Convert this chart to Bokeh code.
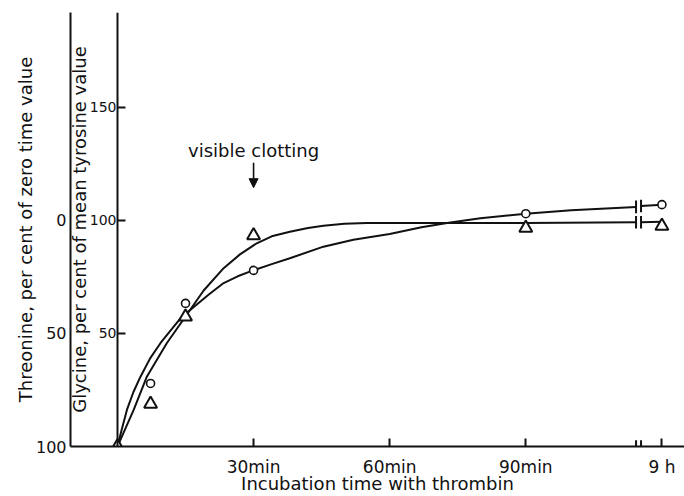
from bokeh.plotting import figure
from bokeh.models import Range1d, LinearAxis, FixedTicker, Label, Arrow, NormalHead
from bokeh.embed import file_html
from bokeh.resources import INLINE

# ---- data ----
# time in minutes; the 9 h sample is placed at the position after the axis break (120)
thr_time = [0, 7.3, 15, 30, 90, 120]
thr_pct = [100, 81.2, 42.6, 6.7, 3.3, 2.4]          # threonine, % of zero time value (triangles)
gly_time = [7.3, 15, 30, 90, 120]
gly_pct = [27.9, 63.3, 77.9, 103, 107]              # glycine, % of mean tyrosine value (circles)

thr_curve_t = [0, 1.5, 3.6, 6.5, 10.9, 15, 19, 23.4, 27, 30.7, 34, 38, 42, 45.4, 50, 55, 60, 90, 114.3]
thr_curve_v = [100, 93.2, 83.7, 69, 54.2, 42.5, 31, 21.1, 15, 10.1, 7, 5, 3.3, 2.3, 1.5, 1.1, 1.1, 1.1, 0.8]
gly_curve_t = [0, 1, 2.1, 3.5, 5.1, 7.2, 9.5, 12, 14.2, 16.1, 20, 23.4, 26.5, 29.6, 34, 38, 45.4,
               52, 60, 67, 73, 80, 90, 100, 114.3]
gly_curve_v = [0, 8, 16.3, 24, 31, 39, 45.8, 52, 57.5, 60.5, 67, 72.3, 75.3, 77.7, 80.7, 83.3, 88.4,
               91.5, 94, 97, 99, 101, 103, 104.5, 106]
thr_after_t = [115.4, 120]
thr_after_v = [0.8, 0.6]
gly_after_t = [115.4, 120]
gly_after_v = [106.4, 107]
break_t = [114.3, 115.4]

x_ticks = [30, 60, 90, 120]
x_tick_labels = ["30min", "60min", "90min", "9 h"]
gly_ticks = [50, 100, 150]
thr_ticks = [0, 50, 100]

FONT = "DejaVu Sans"
INK = "#111111"

p = figure(width=684, height=496, output_backend="svg", toolbar_location=None,
           x_range=Range1d(-10.35, 124.98), y_range=Range1d(0, 192),
           y_axis_location=None,
           min_border_left=70, min_border_right=0, min_border_top=12, min_border_bottom=49)
p.extra_y_ranges = {"thr": Range1d(100, -92)}
p.outline_line_color = None
p.xgrid.visible = False
p.ygrid.visible = False
p.background_fill_color = "white"
p.border_fill_color = "white"

# outer axis: threonine (inverted scale)
thr_axis = LinearAxis(y_range_name="thr", ticker=FixedTicker(ticks=thr_ticks),
                      axis_label="Threonine, per cent of zero time value")
# inner axis: glycine, drawn at t = 0
gly_axis = LinearAxis(ticker=FixedTicker(ticks=gly_ticks), fixed_location=0,
                      axis_label="Glycine, per cent of mean tyrosine value")
p.add_layout(thr_axis, "left")
p.add_layout(gly_axis, "left")

for ax in (thr_axis, gly_axis):
    ax.axis_line_color = INK
    ax.axis_line_width = 2
    ax.major_tick_line_color = INK
    ax.major_tick_line_width = 2
    ax.minor_tick_line_color = None
    ax.major_label_text_font = FONT
    ax.major_label_text_color = INK
    ax.axis_label_text_font = FONT
    ax.axis_label_text_font_style = "normal"
    ax.axis_label_text_color = INK
    ax.axis_label_text_font_size = "18px"

thr_axis.major_tick_in = 0
thr_axis.major_tick_out = 0
thr_axis.major_label_standoff = 4
thr_axis.major_label_text_font_size = "16px"
thr_axis.axis_label_standoff = -3

gly_axis.major_tick_in = 8
gly_axis.major_tick_out = 0
gly_axis.major_label_standoff = 1
gly_axis.major_label_text_font_size = "14px"
gly_axis.axis_label_standoff = -3

xa = p.xaxis[0]
xa.ticker = FixedTicker(ticks=x_ticks)
xa.major_label_overrides = {t: lab for t, lab in zip(x_ticks, x_tick_labels)}
xa.axis_label = "Incubation time with thrombin"
xa.axis_line_color = INK
xa.axis_line_width = 2
xa.major_tick_line_color = INK
xa.major_tick_line_width = 2
xa.major_tick_in = 8
xa.major_tick_out = 0
xa.minor_tick_line_color = None
xa.major_label_standoff = 10
xa.major_label_text_font = FONT
xa.major_label_text_font_size = "17px"
xa.major_label_text_color = INK
xa.axis_label_text_font = FONT
xa.axis_label_text_font_style = "normal"
xa.axis_label_text_font_size = "18px"
xa.axis_label_text_color = INK
xa.axis_label_standoff = -7

# curves
p.line(gly_curve_t, gly_curve_v, line_color=INK, line_width=2)
p.line(thr_curve_t, thr_curve_v, line_color=INK, line_width=2, y_range_name="thr")
p.line(gly_after_t, gly_after_v, line_color=INK, line_width=2)
p.line(thr_after_t, thr_after_v, line_color=INK, line_width=2, y_range_name="thr")

# axis-break marks on both curves and on the time axis
half = 2.8
gly_b = [gly_curve_v[-1], gly_after_v[0]]
thr_b = [thr_curve_v[-1], thr_after_v[0]]
p.segment(x0=break_t, x1=break_t, y0=[v - half for v in gly_b], y1=[v + half for v in gly_b],
          line_color=INK, line_width=2)
p.segment(x0=break_t, x1=break_t, y0=[v - half for v in thr_b], y1=[v + half for v in thr_b],
          line_color=INK, line_width=2, y_range_name="thr")
p.segment(x0=break_t, x1=break_t, y0=[-half, -half], y1=[half, half],
          line_color=INK, line_width=2)

# points
p.scatter(gly_time, gly_pct, marker="circle", size=8, line_color=INK, line_width=1.6,
          fill_color="white")
p.scatter(thr_time, thr_pct, marker="triangle", size=13, line_color=INK, line_width=2,
          fill_color="white", y_range_name="thr")

# visible clotting annotation
p.add_layout(Label(x=30, y=131, text="visible clotting", text_align="center",
                   text_baseline="middle", text_font=FONT, text_font_size="18px",
                   text_color=INK))
p.add_layout(Arrow(end=NormalHead(size=9, fill_color=INK, line_color=INK),
                   x_start=30, y_start=125.5, x_end=30, y_end=114.5,
                   line_color=INK, line_width=1.6))

open("out.html", "w").write(file_html(p, INLINE))
